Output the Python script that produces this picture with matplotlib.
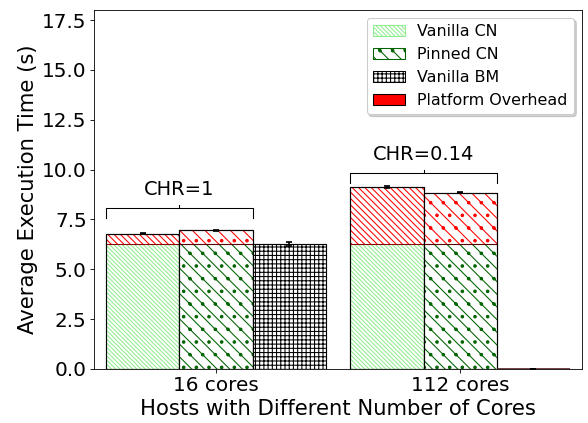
import numpy as np
import matplotlib
matplotlib.use("Agg")
import matplotlib.pyplot as plt
from matplotlib.patches import Patch

# hosts on the x axis
hosts = ["16 cores", "112 cores"]

# execution times (s)
base_time = [6.25, 6.25]        # bare-metal share of the container runs
vanilla_cn = [6.78, 9.13]
pinned_cn = [6.95, 8.83]
vanilla_bm = [6.26, 0.0]
vanilla_cn_err = [0.03, 0.04]
pinned_cn_err = [0.04, 0.02]
vanilla_bm_err = [0.10, 0.0]

# CHR brackets: label and height of the bracket line
chr_labels = ["CHR=1", "CHR=0.14"]
chr_y = [8.07, 9.85]

DPI = 76
plt.rcParams["hatch.linewidth"] = 1.0

fig, ax = plt.subplots(figsize=(588 / DPI, 423 / DPI), dpi=DPI)

x = np.arange(len(hosts))
w = 0.3
base = np.array(base_time)
van = np.array(vanilla_cn)
pin = np.array(pinned_cn)
ekw = dict(elinewidth=1.6, capthick=1.6, ecolor="black")

h_van = "\\" * 6
h_ovh = "\\" * 4
h_pin = "\\" * 2 + "."

# vanilla CN
ax.bar(x - w, base, w, color="white", edgecolor="lightgreen", hatch=h_van, lw=0)
ax.bar(x - w, van - base, w, bottom=base, color="white", edgecolor="red", hatch=h_ovh, lw=0)
ax.bar(x - w, base, w, fill=False, edgecolor="lightgreen", lw=1)
ax.bar(x - w, van - base, w, bottom=base, fill=False, edgecolor="#8b0000", lw=1)
ax.bar(x - w, van, w, fill=False, edgecolor="black", lw=1.1,
       yerr=vanilla_cn_err, capsize=3, error_kw=ekw)

# pinned CN
ax.bar(x, base, w, color="white", edgecolor="darkgreen", hatch=h_pin, lw=0)
ax.bar(x, pin - base, w, bottom=base, color="white", edgecolor="red", hatch=h_pin, lw=0)
ax.bar(x, base, w, fill=False, edgecolor="darkgreen", lw=1)
ax.bar(x, pin - base, w, bottom=base, fill=False, edgecolor="#5a0000", lw=1)
ax.bar(x, pin, w, fill=False, edgecolor="black", lw=1.1,
       yerr=pinned_cn_err, capsize=3, error_kw=ekw)

# vanilla BM
ax.bar(x + w, vanilla_bm, w, color="white", edgecolor="black", hatch="+++", lw=1.1,
       yerr=vanilla_bm_err, capsize=3, error_kw=ekw)
ax.bar(x[1:] + w, np.array(vanilla_bm)[1:], w, fill=False, edgecolor="#5a1a1a", lw=1.5)

# CHR brackets over the two container bars
for i, lab in enumerate(chr_labels):
    y1 = chr_y[i]
    y0 = y1 - 0.5
    xl, xr = x[i] - 1.5 * w, x[i] + 0.5 * w
    xm = (xl + xr) / 2
    ax.plot([xl, xl, xr, xr], [y0, y1, y1, y0], color="black", lw=1)
    ax.plot([xm, xm], [y1, y1 + 0.15], color="black", lw=1)
    ax.text(xm, y1 + 0.45, lab, ha="center", va="bottom", fontsize=18.5)

handles = [
    Patch(facecolor="white", edgecolor="lightgreen", hatch=h_van),
    Patch(facecolor="white", edgecolor="darkgreen", hatch=h_pin),
    Patch(facecolor="white", edgecolor="black", hatch="+++"),
    Patch(facecolor="red", edgecolor="black"),
]
ax.legend(handles, ["Vanilla CN", "Pinned CN", "Vanilla BM", "Platform Overhead"],
          loc="upper right", fontsize=15, shadow=dict(color="gray", alpha=0.35))

ax.set_xticks(x)
ax.set_xticklabels(hosts)
ax.set_xlim(-0.5, 1.5)
ax.set_ylim(0, 18)
ax.set_yticks(np.arange(0, 17.6, 2.5))
ax.tick_params(labelsize=19)
ax.set_xlabel("Hosts with Different Number of Cores", fontsize=20)
ax.set_ylabel("Average Execution Time (s)", fontsize=20)

plt.subplots_adjust(left=0.16, right=0.99, top=0.976, bottom=0.128)
plt.savefig("out.png", dpi=DPI)
